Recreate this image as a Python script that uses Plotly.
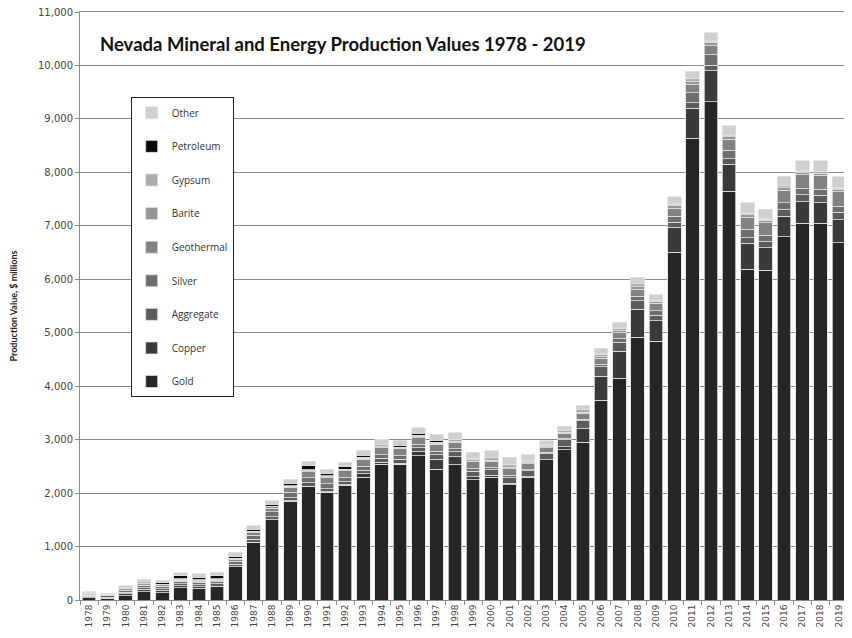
import plotly.graph_objects as go

years = [str(y) for y in range(1978, 2020)]

gold = [40, 35, 80, 150, 140, 230, 220, 250, 620, 1080, 1500, 1850, 2120, 2020, 2150, 2300, 2540, 2540,
        2700, 2450, 2530, 2250, 2300, 2160, 2300, 2620, 2810, 2950, 3740, 4150, 4920, 4840, 6510, 8640,
        9320, 7650, 6190, 6170, 6800, 7050, 7050, 6680]
copper = [30, 20, 40, 50, 40, 40, 30, 10, 5, 5, 5, 5, 5, 5, 5, 60, 40, 20, 70, 180, 150, 60, 30, 20, 5, 5,
          60, 250, 450, 500, 520, 380, 460, 560, 580, 500, 480, 420, 380, 400, 380, 430]
aggregate = [20, 20, 25, 30, 30, 35, 40, 40, 45, 50, 55, 60, 65, 60, 60, 65, 70, 75, 80, 90, 95, 100, 105,
             110, 110, 115, 130, 150, 170, 175, 160, 110, 100, 100, 100, 105, 110, 115, 120, 130, 140, 145]
silver = [10, 10, 40, 50, 45, 50, 40, 45, 55, 75, 90, 100, 100, 90, 85, 80, 70, 60, 60, 60, 50, 50, 40, 40,
          25, 20, 25, 30, 50, 60, 80, 80, 110, 190, 200, 160, 160, 120, 130, 125, 115, 110]
geothermal = [0, 0, 0, 0, 5, 10, 15, 20, 35, 50, 70, 90, 110, 115, 120, 130, 130, 130, 130, 130, 125, 125,
              120, 130, 110, 90, 95, 110, 110, 115, 130, 140, 150, 160, 170, 200, 220, 230, 240, 250, 260, 270]
barite = [20, 15, 25, 30, 25, 20, 20, 20, 15, 15, 20, 20, 20, 15, 15, 15, 15, 15, 15, 15, 15, 15, 15, 15,
          15, 15, 20, 25, 35, 40, 50, 35, 45, 55, 55, 50, 50, 45, 40, 40, 40, 40]
gypsum = [10, 10, 10, 10, 10, 10, 10, 10, 10, 15, 15, 15, 15, 15, 15, 20, 20, 20, 25, 25, 30, 30, 30, 35,
          30, 30, 35, 40, 45, 40, 35, 25, 25, 25, 25, 25, 25, 25, 25, 25, 25, 25]
petroleum = [5, 5, 15, 25, 30, 55, 55, 60, 35, 30, 30, 40, 75, 50, 45, 40, 30, 30, 35, 40, 15, 15, 20, 20,
             15, 15, 15, 15, 20, 20, 30, 15, 20, 25, 25, 20, 20, 10, 10, 10, 10, 10]
other = [20, 15, 35, 45, 45, 60, 60, 65, 70, 70, 75, 80, 85, 80, 80, 90, 95, 100, 105, 115, 115, 115, 130,
         140, 105, 70, 65, 70, 90, 100, 115, 95, 120, 135, 135, 160, 175, 175, 185, 190, 195, 210]

series = [
    ("Gold", gold, "#262626"),
    ("Copper", copper, "#3a3a3a"),
    ("Aggregate", aggregate, "#5c5c5c"),
    ("Silver", silver, "#6e6e6e"),
    ("Geothermal", geothermal, "#828282"),
    ("Barite", barite, "#959595"),
    ("Gypsum", gypsum, "#ababab"),
    ("Petroleum", petroleum, "#0a0a0a"),
    ("Other", other, "#cfcfcf"),
]

fig = go.Figure()
n = len(series)
for i, (name, vals, col) in enumerate(series):
    fig.add_trace(go.Bar(
        x=years, y=vals, name=name, legendgroup=name, legendrank=1000 + (n - i),
        marker=dict(color=col, line=dict(color="#e0e0e0", width=0.8)),
    ))

# page body has an 8px margin, so the figure is sized to end at the window edge
fig.update_layout(
    width=844, height=630,
    barmode="stack", bargap=0.26,
    paper_bgcolor="white", plot_bgcolor="white",
    margin=dict(l=72, r=4, t=4, b=38),
    font=dict(family="Lato, 'Liberation Sans', sans-serif", color="#333333"),
    showlegend=True,
    legend=dict(
        x=0.066, y=0.855, xanchor="left", yanchor="top",
        traceorder="grouped", tracegroupgap=14.6,
        bordercolor="#222222", borderwidth=1, bgcolor="white",
        font=dict(size=10, family="'Open Sans', sans-serif", color="#333333"),
        itemwidth=30,
    ),
    annotations=[dict(
        text="<b>Nevada Mineral and Energy Production Values 1978 - 2019</b>",
        xref="paper", yref="paper", x=0.023, y=0.946, xanchor="left", yanchor="middle",
        showarrow=False, font=dict(size=18.5, family="Lato, sans-serif", color="#111111"),
    )],
)

fig.update_yaxes(
    range=[0, 11000], dtick=1000, tickformat=",d",
    showgrid=True, gridcolor="#8a8a8a", gridwidth=1,
    showline=True, linecolor="#8a8a8a", mirror=True,
    ticks="outside", ticklen=4, tickcolor="#8a8a8a",
    ticklabeloverflow="allow",
    tickfont=dict(size=10, family="'DejaVu Sans', sans-serif", color="#444444"),
    title=dict(text="<b>Production Value, $ millions</b>", standoff=18,
               font=dict(size=9, family="Lato, sans-serif", color="#222222")),
    zeroline=False, automargin=False,
)
fig.update_xaxes(
    type="category", tickangle=-90,
    showline=True, linecolor="#8a8a8a", mirror=True,
    ticks="outside", ticklen=4, tickcolor="#8a8a8a", tickson="boundaries",
    tickfont=dict(size=9, family="'DejaVu Sans', sans-serif", color="#444444"),
    automargin=False,
)

fig.write_html("out.html")
